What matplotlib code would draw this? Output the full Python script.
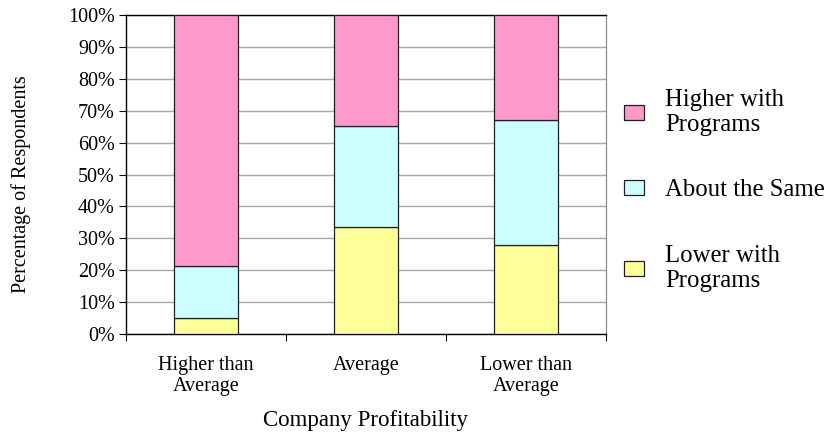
import numpy as np
import matplotlib
matplotlib.use("Agg")
import matplotlib.pyplot as plt
from matplotlib.ticker import PercentFormatter

plt.rcParams['font.family'] = ['Liberation Serif', 'DejaVu Serif']

# data (percent of respondents)
categories = ["Higher than\nAverage", "Average", "Lower than\nAverage"]
lower_with = [5.0, 33.5, 28.0]
about_same = [16.4, 31.8, 39.0]
higher_with = [78.6, 34.7, 33.0]

series_names = ["Lower with\nPrograms", "About the Same", "Higher with\nPrograms"]
colors = ["#FFFF99", "#CCFFFF", "#FF99CC"]

fig = plt.figure(figsize=(8.35, 4.34), dpi=100)
ax = fig.add_axes([0.1509, 0.2304, 0.5748, 0.735])

x = np.arange(len(categories))
bottom = np.zeros(len(categories))
handles = []
for vals, name, c in zip([lower_with, about_same, higher_with], series_names, colors):
    b = ax.bar(x, vals, width=0.4, bottom=bottom, color=c, edgecolor="#202020",
               linewidth=0.9, label=name, zorder=3)
    handles.append(b)
    bottom += np.array(vals)

ax.set_xlim(-0.5, 2.5)
ax.set_ylim(0, 100)
ax.set_yticks(np.arange(0, 101, 10))
ax.yaxis.set_major_formatter(PercentFormatter(decimals=0))
ax.yaxis.grid(True, color="#A6A6A6", linewidth=1.0, zorder=0)

ax.set_xticks(x)
ax.set_xticklabels(categories, fontsize=14.5, linespacing=1.1)
ax.set_xticks([-0.5, 0.5, 1.5, 2.5], minor=True)
ax.tick_params(axis="x", which="major", length=0, pad=16)
ax.tick_params(axis="x", which="minor", length=5, width=0.8, direction="out")
ax.tick_params(axis="y", length=5, width=0.8, labelsize=14.5, pad=3)

for s in ["left", "bottom", "top"]:
    ax.spines[s].set_color("black")
    ax.spines[s].set_linewidth(1.0)
ax.spines["right"].set_color("#808080")

ax.set_xlabel("Company Profitability", fontsize=16.5, labelpad=10)
ax.set_ylabel("Percentage of Respondents", fontsize=14.5)
ax.yaxis.set_label_coords(-0.197, 0.47)

leg = ax.legend(handles[::-1], series_names[::-1], loc="center left",
                bbox_to_anchor=(1.0375, 0.45), frameon=False, fontsize=17.8,
                borderpad=0, borderaxespad=0,
                handlelength=0.82, handleheight=0.58, handletextpad=0.84,
                labelspacing=1.75)
for t in leg.get_texts():
    t.set_linespacing(1.2)

fig.savefig("out.png", dpi=100)
